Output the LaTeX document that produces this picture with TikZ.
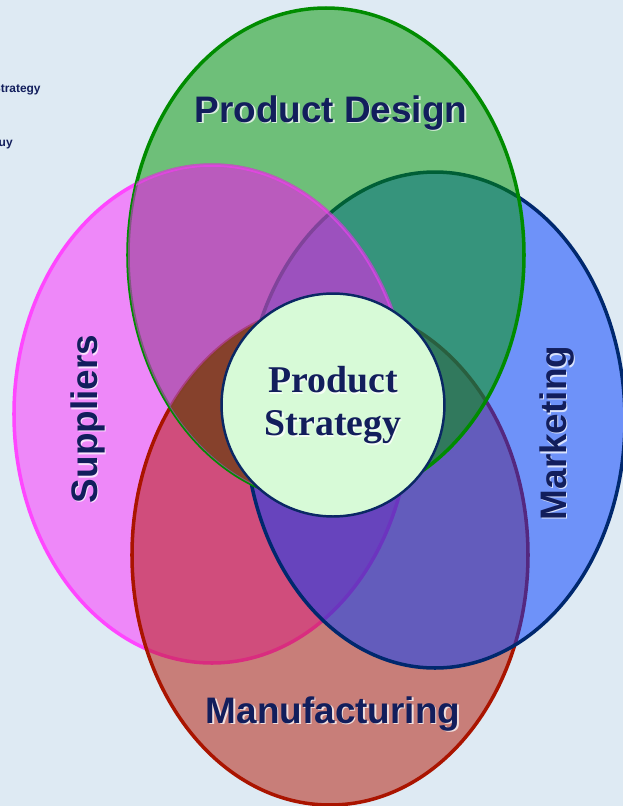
\documentclass[tikz,border=0pt]{standalone}
\usepackage{fontspec}
\usepackage{xcolor}
\usepackage{tikz}
\usetikzlibrary{positioning}
\newfontfamily\labelfont{Liberation Sans}
\newfontfamily\corefont{Liberation Serif}
\definecolor{bgblue}{RGB}{222,234,243}
\definecolor{navytext}{RGB}{18,30,92}
\definecolor{designfill}{RGB}{0,150,0}
\definecolor{designline}{RGB}{0,140,0}
\definecolor{supplyfill}{RGB}{255,40,255}
\definecolor{supplyline}{RGB}{255,70,255}
\definecolor{makefill}{RGB}{180,20,0}
\definecolor{makeline}{RGB}{170,20,0}
\definecolor{marketfill}{RGB}{0,60,255}
\definecolor{marketline}{RGB}{0,40,110}
\definecolor{mixfill}{RGB}{130,64,32}
\definecolor{corefill}{RGB}{215,250,215}
\definecolor{coreline}{RGB}{10,40,100}
\tikzset{
    area/.style = {line width=2pt, fill opacity=0.5},
    areatext/.style = {anchor=base, inner sep=0pt, text=navytext,
        font=\labelfont\bfseries\fontsize{21}{25}\selectfont},
    glow/.style = {text=white, text opacity=0.75, xshift=0.9pt, yshift=-0.9pt},
    corecircle/.style = {circle, draw=coreline, line width=1.4pt,
        fill=corefill, minimum size=4.46cm, inner sep=0pt},
    coretext/.style = {align=center, inner sep=0pt, text=navytext,
        font=\corefont\bfseries\fontsize{21.5}{24.5}\selectfont},
    minortext/.style = {anchor=base east, inner sep=0pt, text=navytext,
        font=\labelfont\bfseries\fontsize{6.8}{8}\selectfont},
}
% label with its light shadow
\newcommand{\arealabel}[4]{%
    \node [areatext, glow, rotate=#3] at #2 {#4};
    \node (#1) [areatext, rotate=#3] at #2 {#4};}

\begin{document}
\begin{tikzpicture}[x=0.02cm, y=-0.02cm]
        \fill [bgblue] (0,0) rectangle (623,806);
        \useasboundingbox (0,0) rectangle (623,806);
        \coordinate (supply) at (212,414);
        \coordinate (make) at (330,555);
        \coordinate (market) at (435,420);
        \coordinate (design) at (326,255);
        % the four areas
        \path [area, fill=supplyfill, draw=supplyline] (supply) ellipse [x radius=198, y radius=249];
        \path [area, fill=makefill, draw=makeline] (make) ellipse [x radius=198, y radius=250];
        \path [area, fill=marketfill, draw=marketline] (market) ellipse [x radius=190, y radius=248];
        \path [area, fill=designfill, draw=designline] (design) ellipse [x radius=198, y radius=247];
        \begin{scope}
            \clip (design) ellipse [x radius=198, y radius=247];
            \path [area, fill=supplyfill, draw=supplyline, draw opacity=0.5] (supply) ellipse [x radius=198, y radius=249];
        \end{scope}
        % where suppliers, design and manufacturing meet
        \begin{scope}
            \clip (supply) ellipse [x radius=198, y radius=249];
            \clip (make) ellipse [x radius=198, y radius=250];
            \fill [mixfill, fill opacity=0.9] (design) ellipse [x radius=197, y radius=246];
        \end{scope}
        % labels
        \arealabel{designlabel}{(331,122)}{0}{Product Design}
        \arealabel{makelabel}{(333,723)}{0}{Manufacturing}
        \arealabel{supplylabel}{(97,419)}{90}{Suppliers}
        \arealabel{marketlabel}{(566,433)}{90}{Marketing}
        % centre
        \node (core) [corecircle] at (333,405) {};
        \node [coretext, glow] at (core) {Product\\Strategy};
        \node (coretitle) [coretext] at (core) {Product\\Strategy};
        % cut-off text at the left edge
        \node (sidea) [minortext] at (41,92) {Strategy};
        \node (sideb) [minortext] at (13,146) {Buy};
\end{tikzpicture}
\end{document}
